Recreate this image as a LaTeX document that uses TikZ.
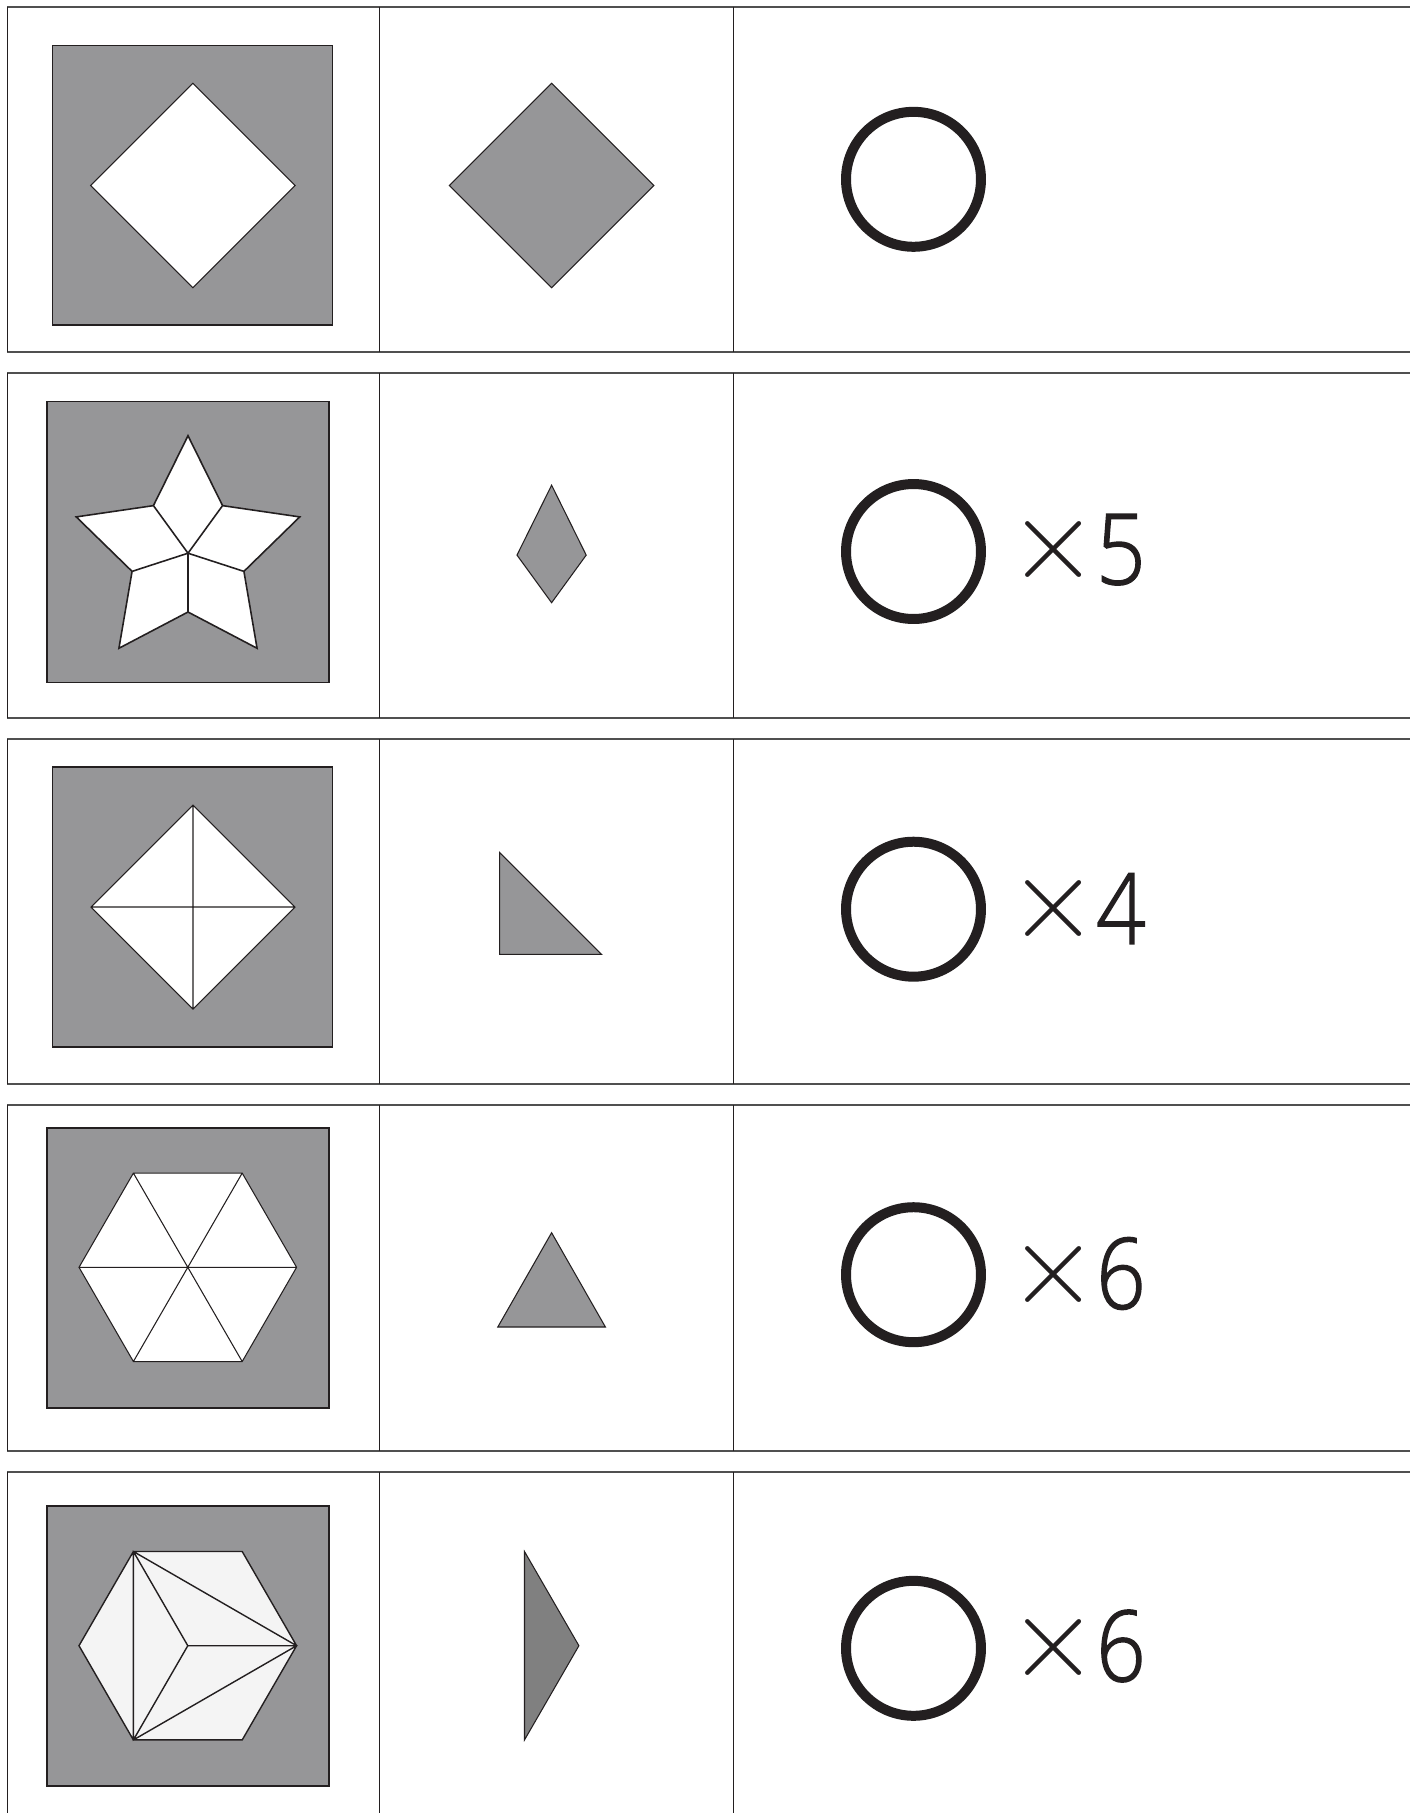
\RequirePackage{fix-cm}
\documentclass[tikz,border=0pt]{standalone}
\usepackage{fontspec}
\setmainfont{Open Sans}
\newfontfamily\countfont{Open Sans Light}[FakeBold=1.5]
\usepackage{tikz}
\usetikzlibrary{positioning}
\definecolor{panel}{HTML}{969698}
\definecolor{piecedark}{HTML}{808080}
\definecolor{piecelight}{HTML}{F4F4F4}
\definecolor{ink}{HTML}{231F20}
\definecolor{rule}{HTML}{505050}
\newcommand{\cellrow}[2]{%
  \draw[rowline] (7.2,#1) -- (1420,#1) (7.2,#2) -- (1420,#2);
  \draw[colline] (7.2,#1) -- (7.2,#2) (379.5,#1) -- (379.5,#2) (733.8,#1) -- (733.8,#2);
}

\begin{document}
\begin{tikzpicture}[
  x=0.02cm, y=-0.02cm,
  rowline/.style={draw=rule, line width=1.1pt},
  colline/.style={draw=ink, line width=0.6pt},
  panelbox/.style={fill=panel, draw=ink, line width=0.6pt},
  hole/.style={fill=white, draw=ink, line width=0.6pt},
  piece/.style={fill=panel, draw=ink, line width=0.6pt},
  ring/.style={circle, draw=ink, line width=0.2cm, minimum size=2.7cm,
               inner sep=0pt, outer sep=0pt},
  mult/.style={inner sep=0pt, text=ink, font=\fontsize{66}{66}\selectfont},
  count/.style={inner sep=0pt, text=ink, xscale=0.88,
                font=\countfont\fontsize{56}{56}\selectfont}
]
\clip (0,0) rectangle (1410,1813);
\fill[white] (0,0) rectangle (1410,1813);

% table frame
\cellrow{6.7}{352}
\cellrow{372.7}{718.3}
\cellrow{739.3}{1084.3}
\cellrow{1105.3}{1450.7}
\cellrow{1472}{1817}

% row 1: square hole
\draw[panelbox] (52.4,45.3) rectangle (332.5,325);
\draw[hole] (192.9,83.3) -- (295.2,185.5) -- (192.9,287.7) -- (90.6,185.5) -- cycle;
\draw[piece] (551.6,83.3) -- (653.9,185.5) -- (551.6,287.7) -- (449.3,185.5) -- cycle;
\node[ring] (ring1) at (913.5,179.3) {};

% row 2: star of five kites
\draw[panelbox] (47,401.7) rectangle (329,682.7);
\begin{scope}[shift={(188,553.2)}, yscale=-1]
  \draw[hole, line width=0.9pt]
    (90:117.5) -- (126:58.8) -- (162:117.5) -- (198:58.8) -- (234:117.5)
    -- (270:58.8) -- (306:117.5) -- (342:58.8) -- (18:117.5) -- (54:58.8) -- cycle
    (0,0) -- (54:58.8) (0,0) -- (126:58.8) (0,0) -- (198:58.8)
    (0,0) -- (270:58.8) (0,0) -- (342:58.8);
\end{scope}
\draw[piece] (551.6,485.2) -- (586.2,555.1) -- (551.6,602.7) -- (517,555.1) -- cycle;
\node[ring] (ring2) at (913.5,551.5) {};
\node[mult] (mult2) at (1053.5,550) {$\times$};
\node[count] (num2) at (1121,549.6) {5};

% row 3: square cut in four
\draw[panelbox] (52.4,767) rectangle (332.5,1047);
\draw[hole] (193,805) -- (295,907) -- (193,1009) -- (91,907) -- cycle
  (193,805) -- (193,1009) (91,907) -- (295,907);
\draw[piece] (499.7,852.5) -- (499.7,954.3) -- (601.5,954.3) -- cycle;
\node[ring] (ring3) at (913.5,909.2) {};
\node[mult] (mult3) at (1053.5,908) {$\times$};
\node[count] (num3) at (1121,908.6) {4};

% row 4: hexagon of six triangles
\draw[panelbox] (47,1128) rectangle (329,1408);
\begin{scope}[shift={(187.8,1267.3)}, yscale=-1]
  \draw[hole] (0:108.8) -- (60:108.8) -- (120:108.8) -- (180:108.8)
    -- (240:108.8) -- (300:108.8) -- cycle
    (0:108.8) -- (180:108.8) (60:108.8) -- (240:108.8) (120:108.8) -- (300:108.8);
\end{scope}
\draw[piece] (551.6,1232.7) -- (605.4,1327) -- (497.8,1327) -- cycle;
\node[ring] (ring4) at (913.5,1274.7) {};
\node[mult] (mult4) at (1053.5,1274.7) {$\times$};
\node[count] (num4) at (1121,1273.5) {6};

% row 5: hexagon of six obtuse triangles
\draw[panelbox] (47,1506) rectangle (329,1786);
\begin{scope}[shift={(187.8,1645.7)}, yscale=-1]
  \draw[hole, fill=piecelight, line width=0.8pt] (0:108.8) -- (60:108.8) -- (120:108.8)
    -- (180:108.8) -- (240:108.8) -- (300:108.8) -- cycle
    (120:108.8) -- (240:108.8) -- (0:108.8) -- cycle
    (0,0) -- (0:108.8) (0,0) -- (120:108.8) (0,0) -- (240:108.8);
\end{scope}
\draw[piece, fill=piecedark] (524.5,1551.5) -- (578.9,1645.7) -- (524.5,1739.9) -- cycle;
\node[ring] (ring5) at (913.5,1648.3) {};
\node[mult] (mult5) at (1053.5,1647) {$\times$};
\node[count] (num5) at (1121,1646) {6};

\end{tikzpicture}
\end{document}
